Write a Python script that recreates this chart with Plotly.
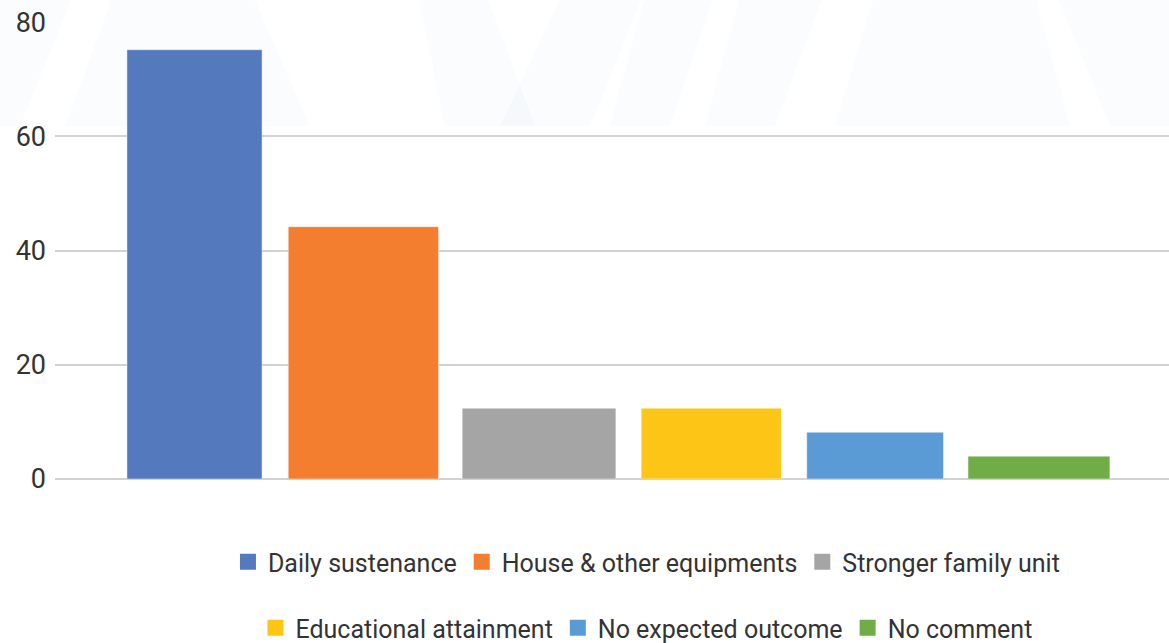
import plotly.graph_objects as go

# Survey responses: expected outcome of the support received (%)
categories = [
    "Daily sustenance",
    "House & other equipments",
    "Stronger family unit",
    "Educational attainment",
    "No expected outcome",
    "No comment",
]
values = [75.2, 44.2, 12.4, 12.4, 8.2, 4.0]
colors = ["#5479BD", "#F47E30", "#A5A5A5", "#FDC617", "#5B9BD5", "#70AD47"]
y_ticks = [0, 20, 40, 60, 80]

FONT = "Roboto, Arial, sans-serif"
TEXT = "#333333"
GRID = "#D2D2D2"

# Per-bar widths and centre shifts (in category units)
bar_widths = [0.80, 0.89, 0.91, 0.83, 0.81, 0.84]
bar_shift = [0.0, 0.0, 0.04, 0.06, 0.03, 0.0]
bar_offsets = [s - w / 2 for s, w in zip(bar_shift, bar_widths)]

fig = go.Figure()

# One bar per category
fig.add_trace(go.Bar(
    x=categories,
    y=values,
    width=bar_widths,
    offset=bar_offsets,
    marker=dict(color=colors, line=dict(color="rgba(255,255,255,0.45)", width=1)),
    showlegend=False,
    hoverinfo="x+y",
))

# Legend entries (square swatches), split over two centred rows
for i, (name, col) in enumerate(zip(categories, colors)):
    fig.add_trace(go.Scatter(
        x=[None], y=[None], mode="markers", name=name,
        marker=dict(symbol="square", size=16, color=col),
        legend="legend" if i < 3 else "legend2",
    ))

# Faint background watermark shapes
wm = dict(type="path", xref="paper", yref="paper", layer="below",
          line=dict(width=0), fillcolor="rgba(225,236,246,0.18)")
def px(x, y):
    return f"{(x - 55) / 1114:.4f},{(479 - y) / 457:.4f}"
paths = [
    [(0, -22), (80, -22), (20, 126), (0, 126)],
    [(120, -22), (245, -22), (310, 126), (65, 126)],
    [(415, -22), (480, -22), (535, 126), (445, 126)],
    [(570, -22), (650, -22), (590, 126), (500, 126)],
    [(650, -22), (720, -22), (670, 126), (610, 126)],
    [(745, -22), (830, -22), (775, 126), (705, 126)],
    [(880, -22), (1030, -22), (1070, 126), (835, 126)],
    [(1050, -22), (1169, -22), (1169, 126), (1110, 126)],
]
for p in paths:
    d = "M " + " L ".join(px(x, y) for x, y in p) + " Z"
    fig.add_shape(path=d, **wm)

legend_common = dict(
    orientation="h", xref="container", x=0.553, xanchor="center",
    yref="container", yanchor="middle",
    font=dict(family=FONT, size=25, color=TEXT), itemsizing="trace",
    bgcolor="rgba(0,0,0,0)",
)

fig.update_layout(
    width=1169, height=643,
    margin=dict(l=55, r=0, t=22, b=164, autoexpand=False),
    paper_bgcolor="white", plot_bgcolor="rgba(0,0,0,0)",
    font=dict(family=FONT, size=25, color=TEXT),
    legend=dict(y=1 - 562 / 643, **legend_common),
    legend2=dict(y=1 - 628 / 643, **legend_common),
    xaxis=dict(
        type="category", range=[-0.826, 5.77],
        showticklabels=False, showgrid=False, zeroline=False, showline=False,
        ticks="",
    ),
    yaxis=dict(
        range=[0, 80.05], tickvals=y_ticks,
        showgrid=True, gridcolor=GRID, gridwidth=2,
        zeroline=True, zerolinecolor=GRID, zerolinewidth=2,
        showline=False, ticks="", ticklabelstandoff=8,
        tickfont=dict(family=FONT, size=27, color=TEXT),
    ),
)

fig.write_html("out.html")
